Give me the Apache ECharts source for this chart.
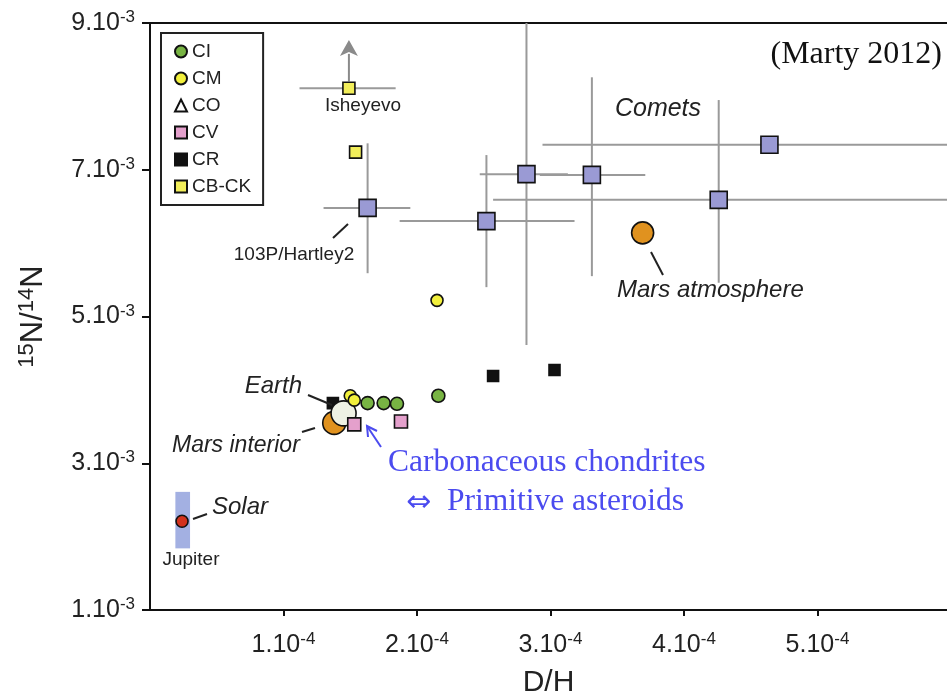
<!DOCTYPE html>
<html>
<head>
<meta charset="utf-8">
<script src="https://cdn.jsdelivr.net/npm/echarts@6/dist/echarts.min.js"></script>
<style>
  html, body { margin: 0; padding: 0; background: #fff; }
  #chart { width: 947px; height: 699px; }
</style>
</head>
<body>
<div id="chart"></div>
<script>
// D/H in units of 1e-4, 15N/14N in units of 1e-3
const xTicks = [1, 2, 3, 4, 5]
const yTicks = [1, 3, 5, 7, 9]

const ciPts = [[1.63, 3.82], [1.75, 3.82], [1.85, 3.81], [2.16, 3.92]]
const cmPts = [[1.50, 3.92], [1.53, 3.86], [2.15, 5.22]]
const coPts = []
const cvPts = [[1.53, 3.53], [1.88, 3.57]]
const crPts = [[1.37, 3.82], [2.57, 4.19], [3.03, 4.27]]
const cbckPts = [[1.49, 8.11], [1.54, 7.24]]

// comets: x, y, xlo, xhi, ylo, yhi
const cometPts = [
  [1.63, 6.48, 1.30, 1.95, 5.59, 7.36],
  [2.52, 6.30, 1.87, 3.18, 5.40, 7.20],
  [2.82, 6.94, 2.47, 3.13, 4.61, 9.00],
  [3.31, 6.93, 2.92, 3.71, 5.55, 8.26],
  [4.64, 7.34, 2.94, 6.20, null, null],
  [4.26, 6.59, 2.57, 6.20, 5.46, 7.95]
]
const isheyevoBar = [1.49, 8.11, 1.12, 1.84, null, null]
const isheyevoLimit = [1.49, 8.11, 8.77]

const marsAtm = [[3.69, 6.14]]
const marsInt = [[1.38, 3.55]]
const earth = [[1.45, 3.68]]
const solar = [[0.24, 2.21]]
// x0, x1, y0, y1
const jupiter = [[0.19, 0.30, 1.84, 2.61]]

const sans = 'Liberation Sans'
const serif = 'Liberation Serif'

const chart = echarts.init(document.getElementById('chart'))

function renderErr(params, api) {
  const x = api.value(0), y = api.value(1)
  const st = { stroke: '#9a9a9a', lineWidth: 2 }
  const kids = []
  const xlo = api.value(2), xhi = api.value(3), ylo = api.value(4), yhi = api.value(5)
  if (isFinite(xlo) && isFinite(xhi)) {
    const a = api.coord([xlo, y]), b = api.coord([xhi, y])
    kids.push({ type: 'line', shape: { x1: a[0], y1: a[1], x2: b[0], y2: b[1] }, style: st })
  }
  if (isFinite(ylo) && isFinite(yhi)) {
    const a = api.coord([x, ylo]), b = api.coord([x, yhi])
    kids.push({ type: 'line', shape: { x1: a[0], y1: a[1], x2: b[0], y2: b[1] }, style: st })
  }
  return { type: 'group', children: kids }
}

function renderRect(params, api) {
  const a = api.coord([api.value(0), api.value(3)])
  const b = api.coord([api.value(1), api.value(2)])
  return {
    type: 'rect',
    shape: { x: a[0], y: a[1], width: b[0] - a[0], height: b[1] - a[1] },
    style: { fill: '#a3b0e2' }
  }
}

function renderLimit(params, api) {
  const p = api.coord([api.value(0), api.value(1)])
  const t = api.coord([api.value(0), api.value(2)])
  return {
    type: 'group',
    children: [
      { type: 'line', shape: { x1: p[0], y1: p[1] - 7, x2: t[0], y2: t[1] + 14 },
        style: { stroke: '#8a8a8a', lineWidth: 2 } },
      { type: 'polygon', shape: { points: [[t[0], t[1]], [t[0] + 9, t[1] + 16], [t[0], t[1] + 12], [t[0] - 9, t[1] + 16]] },
        style: { fill: '#8a8a8a' } }
    ]
  }
}

function dot(name, data, symbol, size, color, z) {
  return {
    name: name,
    type: 'scatter',
    data: data,
    symbol: symbol,
    symbolSize: size,
    z: z || 3,
    itemStyle: { color: color, borderColor: '#111', borderWidth: 1.6, opacity: 1 },
    emphasis: { disabled: true }
  }
}

function txt(text, x, y, size, opts) {
  opts = opts || {}
  return {
    type: 'text',
    x: x,
    y: y,
    z: 20,
    style: {
      text: text,
      fill: opts.fill || '#222',
      font: (opts.italic ? 'italic ' : '') + size + 'px "' + (opts.family || sans) + '"',
      align: opts.align || 'left',
      verticalAlign: 'middle'
    }
  }
}

function seg(x1, y1, x2, y2, color) {
  return {
    type: 'line',
    z: 20,
    shape: { x1: x1, y1: y1, x2: x2, y2: y2 },
    style: { stroke: color || '#222', lineWidth: 2 }
  }
}

const blue = '#4b4bef'

const option = {
  animation: false,
  backgroundColor: '#fff',
  grid: { left: 150, right: 0, top: 23, bottom: 89, outerBoundsMode: 'none', containLabel: false },
  legend: {
    data: ['CI', 'CM', 'CO', 'CV', 'CR', 'CB-CK'],
    orient: 'vertical',
    left: 161,
    top: 33,
    padding: [9, 12, 9, 13],
    itemGap: 8,
    itemWidth: 12,
    itemHeight: 12,
    borderColor: '#222',
    borderWidth: 2,
    selectedMode: false,
    textStyle: { fontFamily: sans, fontSize: 19, color: '#222' }
  },
  xAxis: [
    {
      type: 'value',
      min: 0,
      max: 5.97,
      interval: 1,
      splitLine: { show: false },
      axisLine: { lineStyle: { color: '#111', width: 2 } },
      axisTick: { length: 6, customValues: xTicks, lineStyle: { color: '#111', width: 2 } },
      axisLabel: {
        margin: 21,
        customValues: xTicks,
        formatter: v => '{n|' + v + '.10}{s|-4}',
        rich: {
          n: { fontFamily: sans, fontSize: 25, color: '#222', lineHeight: 28 },
          s: { fontFamily: sans, fontSize: 17, color: '#222', verticalAlign: 'top', lineHeight: 17 }
        }
      },
      name: 'D/H',
      nameLocation: 'middle',
      nameGap: 58,
      nameTextStyle: { fontFamily: sans, fontSize: 30, color: '#222' }
    },
    {
      type: 'value',
      position: 'top',
      min: 0,
      max: 5.97,
      axisLine: { show: true, lineStyle: { color: '#111', width: 2 } },
      axisTick: { show: false },
      axisLabel: { show: false },
      splitLine: { show: false }
    }
  ],
  yAxis: {
    type: 'value',
    min: 1,
    max: 9,
    interval: 2,
    splitLine: { show: false },
    axisLine: { show: true, lineStyle: { color: '#111', width: 2 } },
    axisTick: { show: true, length: 8, lineStyle: { color: '#111', width: 2 } },
    axisLabel: {
      margin: 15,
      formatter: v => yTicks.indexOf(v) >= 0 ? '{n|' + v + '.10}{s|-3}' : '',
      rich: {
        n: { fontFamily: sans, fontSize: 25, color: '#222', lineHeight: 28 },
        s: { fontFamily: sans, fontSize: 17, color: '#222', verticalAlign: 'top', lineHeight: 17 }
      }
    },
    name: '{s|15}{n|N/}{s|14}{n|N}',
    nameLocation: 'middle',
    nameRotate: 90,
    nameGap: 100,
    nameTextStyle: {
      rich: {
        n: { fontFamily: sans, fontSize: 31, color: '#222', lineHeight: 34 },
        s: { fontFamily: sans, fontSize: 22, color: '#222', verticalAlign: 'top', lineHeight: 22 }
      }
    }
  },
  graphic: [
    txt('Isheyevo', 363, 106, 19, { align: 'center' }),
    txt('103P/Hartley2', 294, 255, 19, { align: 'center' }),
    seg(333, 238, 348, 224),
    txt('Comets', 658, 109, 25, { italic: true, align: 'center' }),
    txt('Mars atmosphere', 617, 290, 24, { italic: true }),
    seg(651, 252, 663, 275),
    txt('Earth', 302, 386, 24, { italic: true, align: 'right' }),
    seg(308, 395, 332, 405),
    txt('Mars interior', 172, 446, 23, { italic: true }),
    seg(302, 432, 315, 428),
    txt('Solar', 212, 507, 24, { italic: true }),
    seg(193, 519, 207, 514),
    txt('Jupiter', 191, 560, 19, { align: 'center' }),
    txt('(Marty 2012)', 942, 55, 32, { family: serif, align: 'right', fill: '#111' }),
    txt('Carbonaceous chondrites', 388, 463, 31.5, { family: serif, fill: blue }),
    txt('\u21d4', 406, 503, 30, { family: 'DejaVu Sans', fill: blue }),
    txt('Primitive asteroids', 447, 502, 31.5, { family: serif, fill: blue }),
    seg(381, 447, 367, 426, blue),
    {
      type: 'polyline',
      z: 20,
      shape: { points: [[368, 437], [367, 426], [377, 431]] },
      style: { stroke: blue, lineWidth: 2, fill: null }
    }
  ],
  series: [
    {
      type: 'custom',
      renderItem: renderErr,
      data: cometPts.concat([isheyevoBar]),
      encode: { x: 0, y: 1 },
      z: 1,
      silent: true
    },
    {
      type: 'custom',
      renderItem: renderRect,
      data: jupiter,
      encode: { x: [0, 1], y: [2, 3] },
      z: 1,
      silent: true
    },
    {
      type: 'custom',
      renderItem: renderLimit,
      data: [isheyevoLimit],
      encode: { x: 0, y: [1, 2] },
      z: 1,
      silent: true
    },
    dot('CR', crPts, 'rect', 11, '#111', 2),
    dot('Mars interior', marsInt, 'circle', 23, '#e0921f', 3),
    dot('Earth', earth, 'circle', 25, '#eef1e4', 4),
    dot('CI', ciPts, 'circle', 13, '#78b443', 5),
    dot('CM', cmPts, 'circle', 12, '#f2f03c', 5),
    dot('CO', coPts, 'triangle', 12, '#fff', 5),
    dot('CV', cvPts, 'rect', 13, '#e4a0cc', 5),
    dot('CB-CK', cbckPts, 'rect', 12, '#f2ee5a', 5),
    dot('Comets', cometPts.map(d => [d[0], d[1]]), 'rect', 17, '#9a9ad4', 6),
    dot('Mars atmosphere', marsAtm, 'circle', 22, '#e0921f', 6),
    dot('Solar', solar, 'circle', 12, '#d2321e', 6)
  ]
}

chart.setOption(option)
</script>
</body>
</html>
